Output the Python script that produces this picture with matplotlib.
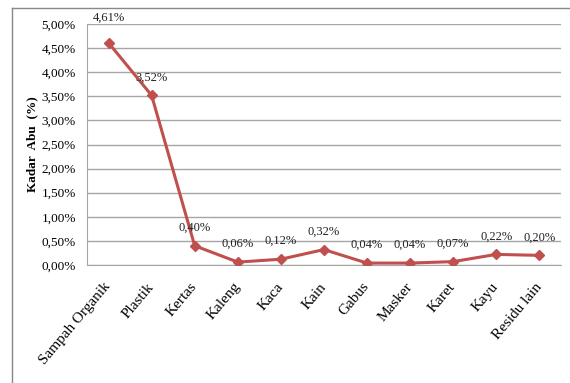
import matplotlib
matplotlib.use("Agg")
import matplotlib.pyplot as plt
from matplotlib.lines import Line2D
from matplotlib.ticker import FuncFormatter
import numpy as np

kategori = ["Sampah Organik", "Plastik", "Kertas", "Kaleng", "Kaca", "Kain",
            "Gabus", "Masker", "Karet", "Kayu", "Residu lain"]
kadar_abu = [4.61, 3.52, 0.40, 0.06, 0.12, 0.32, 0.04, 0.04, 0.07, 0.22, 0.20]
y_ticks = [0.0, 0.5, 1.0, 1.5, 2.0, 2.5, 3.0, 3.5, 4.0, 4.5, 5.0]

plt.rcParams["font.family"] = ["Liberation Serif", "DejaVu Serif"]

fig = plt.figure(figsize=(5.7, 3.83), dpi=100)
ax = fig.add_axes([0.1526, 0.3081, 0.8314, 0.6292])

x = np.arange(len(kategori))
ax.plot(x, kadar_abu, color="#C0504D", linewidth=2.2, marker="D",
        markersize=5, markeredgecolor="#C0504D", zorder=3)

# label data di atas titik
for i, v in enumerate(kadar_abu):
    off = 18 if i == 0 else 13
    ax.annotate(f"{v:.2f}%".replace(".", ","), (i, v), xytext=(0, off),
                textcoords="offset points", ha="center", va="center",
                fontsize=9, color="#222222", zorder=4)

ax.set_xlim(-0.5, len(kategori) - 0.5)
ax.set_ylim(0, 5.0)
ax.set_yticks(y_ticks)
ax.yaxis.set_major_formatter(FuncFormatter(lambda v, p: f"{v:.2f}%".replace(".", ",")))
ax.yaxis.grid(True, color="#A6A6A6", linewidth=1)
ax.set_axisbelow(True)

for s in ["top", "right"]:
    ax.spines[s].set_visible(False)
ax.spines["left"].set_color("#A6A6A6")
ax.spines["bottom"].set_color("#A6A6A6")

ax.tick_params(axis="y", length=0, labelsize=9.5, pad=8)
ax.tick_params(axis="x", length=0, labelsize=11, pad=14)
ax.set_xticks(x)
ax.set_xticklabels(kategori, rotation=50, ha="right", va="center",
                   rotation_mode="anchor")

ax.set_ylabel("Kadar  Abu  (%)", fontsize=9.5, fontweight="bold", labelpad=2)

# bingkai gambar
fig.add_artist(Line2D([12 / 570, 1], [1 - 8 / 383, 1 - 8 / 383],
                      color="#888888", linewidth=1, transform=fig.transFigure))
fig.add_artist(Line2D([12 / 570, 12 / 570], [0, 1 - 8 / 383],
                      color="#888888", linewidth=1, transform=fig.transFigure))

fig.savefig("out.png", dpi=100)
